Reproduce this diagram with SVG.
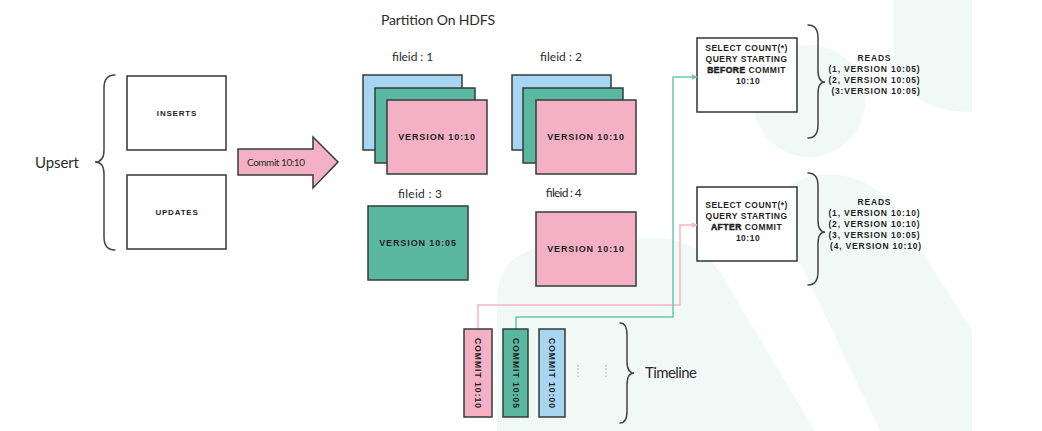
<svg xmlns="http://www.w3.org/2000/svg" width="1042" height="431" viewBox="0 0 1042 431">
<defs>
<style>
.bg{fill:#f1f9f6}
.box{stroke:#333d3d;stroke-width:1.5}
.wbox{fill:#ffffff;stroke:#333333;stroke-width:1.5}
.pink{fill:#f4b1c5}
.green{fill:#5bb8a0}
.blue{fill:#a8d5f2}
.brace{fill:none;stroke:#444444;stroke-width:1.5;stroke-linecap:round}
.hand{font-family:Lato,"Open Sans","Liberation Sans",sans-serif;font-weight:400;fill:#2b2b2b}
.caps{font-family:"Liberation Sans",Arial,sans-serif;font-weight:bold;fill:#1f1f1f;text-anchor:middle}
.heavy{stroke:#1f1f1f;stroke-width:0.5}
.conn-p{fill:none;stroke:#f4b6c8;stroke-width:1.5}
.conn-g{fill:none;stroke:#6cc7af;stroke-width:1.5}
</style>
<marker id="ahp" viewBox="0 0 10 10" refX="9" refY="5" markerWidth="6" markerHeight="6" orient="auto" markerUnits="userSpaceOnUse"><path d="M0,0 L10,5 L0,10 Z" fill="#f4b6c8"/></marker>
<marker id="ahg" viewBox="0 0 10 10" refX="9" refY="5" markerWidth="6" markerHeight="6" orient="auto" markerUnits="userSpaceOnUse"><path d="M0,0 L10,5 L0,10 Z" fill="#6cc7af"/></marker>
</defs>
<rect width="1042" height="431" fill="#ffffff"/>
<g id="watermark">
<circle class="bg" cx="809" cy="101" r="56"/>
<path class="bg" d="M893,0 L972,0 L972,112 Q893,112 893,40 Z"/>
<path class="bg" d="M497,431 L497,300 Q497,248 560,244 L650,238 Q700,236 725,280 L815,431 Z"/>
<path class="bg" d="M770,200 Q800,170 840,175 Q880,180 905,225 L972,330 L972,431 L880,431 Z"/>
</g>
<g id="upsert">
<text class="hand" x="35" y="168" font-size="15" textLength="44">Upsert</text>
<path class="brace" d="M115,75 Q104,75 104,88 L104,150 Q104,162 95,162 Q104,162 104,174 L104,237 Q104,250 115,250"/>
</g>
<g id="inserts">
<rect class="wbox" x="127" y="76" width="99" height="74"/>
<text class="caps" x="177" y="116" font-size="8" letter-spacing="0.8">INSERTS</text>
</g>
<g id="updates">
<rect class="wbox" x="127" y="175" width="99" height="74"/>
<text class="caps" x="177" y="215" font-size="8" letter-spacing="0.8">UPDATES</text>
</g>
<g id="commit-arrow">
<path class="box pink" d="M238,149 L313,149 L313,137 L338,162 L313,188 L313,175 L238,175 Z" stroke-linejoin="miter"/>
<text class="hand" x="276" y="166" font-size="10" text-anchor="middle" textLength="58">Commit 10:10</text>
</g>
<g id="partition-title">
<text class="hand" x="381" y="25" font-size="14" textLength="114">Partition On HDFS</text>
</g>
<g id="file1">
<text class="hand" x="392" y="61" font-size="12" textLength="41">fileid : 1</text>
<rect class="box blue" x="363" y="75" width="99" height="75"/>
<rect class="box green" x="375" y="88" width="100" height="75"/>
<rect class="box pink" x="387" y="100" width="100" height="74"/>
<text class="caps" x="437" y="140" font-size="9" letter-spacing="0.9">VERSION 10:10</text>
</g>
<g id="file2">
<text class="hand" x="540" y="61" font-size="12" textLength="42">fileid : 2</text>
<rect class="box blue" x="512" y="75" width="99" height="75"/>
<rect class="box green" x="523" y="88" width="100" height="75"/>
<rect class="box pink" x="536" y="100" width="100" height="74"/>
<text class="caps" x="586" y="140" font-size="9" letter-spacing="0.9">VERSION 10:10</text>
</g>
<g id="file3">
<text class="hand" x="398" y="198" font-size="12" textLength="44">fileid : 3</text>
<rect class="box green" x="368" y="206" width="100" height="74"/>
<text class="caps" x="418" y="246" font-size="9" letter-spacing="0.9">VERSION 10:05</text>
</g>
<g id="file4">
<text class="hand" x="545" y="197" font-size="12" textLength="36">fileid : 4</text>
<rect class="box pink" x="536" y="212" width="100" height="74"/>
<text class="caps" x="586" y="252" font-size="9" letter-spacing="0.9">VERSION 10:10</text>
</g>
<g id="query-before">
<rect class="wbox" x="697" y="38" width="100" height="74"/>
<text class="caps" font-size="8.5" letter-spacing="0.5">
<tspan x="748" y="51">SELECT COUNT(*)</tspan>
<tspan x="748" y="62">QUERY STARTING</tspan>
<tspan x="748" y="73"><tspan class="heavy">BEFORE</tspan> COMMIT</tspan>
<tspan x="748" y="84">10:10</tspan>
</text>
</g>
<g id="reads-before">
<path class="brace" d="M808,25 Q818,25 818,38 L818,70 Q818,82 825,82 Q818,82 818,94 L818,125 Q818,138 808,138"/>
<text class="caps" font-size="8.5" letter-spacing="0.8">
<tspan x="876" y="61">READS</tspan>
<tspan x="876" y="72">(1, VERSION 10:05)</tspan>
<tspan x="876" y="83">(2, VERSION 10:05)</tspan>
<tspan x="876" y="94">(3:VERSION 10:05)</tspan>
</text>
</g>
<g id="query-after">
<rect class="wbox" x="697" y="187" width="100" height="74"/>
<text class="caps" font-size="8.5" letter-spacing="0.5">
<tspan x="748" y="208">SELECT COUNT(*)</tspan>
<tspan x="748" y="219">QUERY STARTING</tspan>
<tspan x="748" y="230"><tspan class="heavy">AFTER</tspan> COMMIT</tspan>
<tspan x="748" y="241">10:10</tspan>
</text>
</g>
<g id="reads-after">
<path class="brace" d="M808,173 Q818,173 818,186 L818,220 Q818,232 825,232 Q818,232 818,244 L818,272 Q818,285 808,285"/>
<text class="caps" font-size="8.5" letter-spacing="0.8">
<tspan x="876" y="205">READS</tspan>
<tspan x="876" y="216">(1, VERSION 10:10)</tspan>
<tspan x="876" y="227">(2, VERSION 10:10)</tspan>
<tspan x="876" y="238">(3, VERSION 10:05)</tspan>
<tspan x="876" y="249">(4, VERSION 10:10)</tspan>
</text>
</g>
<g id="connectors">
<path class="conn-p" d="M478,329 L478,305 L680,305 L680,225 L697,225" marker-end="url(#ahp)"/>
<path class="conn-g" d="M516,329 L516,317 L673,317 L673,77 L697,77" marker-end="url(#ahg)"/>
</g>
<g id="commit-1010">
<rect class="box pink" x="464" y="329" width="28" height="88"/>
<text class="caps" font-size="8.5" transform="translate(478,373) rotate(90)" y="3" textLength="70">COMMIT  10:10</text>
</g>
<g id="commit-1005">
<rect class="box green" x="503" y="329" width="25" height="88"/>
<text class="caps" font-size="8.5" transform="translate(515.5,373) rotate(90)" y="3" textLength="70">COMMIT  10:05</text>
</g>
<g id="commit-1000">
<rect class="box blue" x="539" y="329" width="26" height="88"/>
<text class="caps" font-size="8.5" transform="translate(552,373) rotate(90)" y="3" textLength="70">COMMIT  10:00</text>
</g>
<g id="timeline">
<line x1="578" y1="365" x2="578" y2="378" stroke="#aaaaaa" stroke-width="1" stroke-dasharray="1.5 2"/>
<line x1="606" y1="365" x2="606" y2="378" stroke="#aaaaaa" stroke-width="1" stroke-dasharray="1.5 2"/>
<path class="brace" d="M620,323 Q627,323 627,335 L627,361 Q627,373 634,373 Q627,373 627,385 L627,411 Q627,423 620,423"/>
<text class="hand" x="645" y="378" font-size="15" textLength="52">Timeline</text>
</g>
</svg>
